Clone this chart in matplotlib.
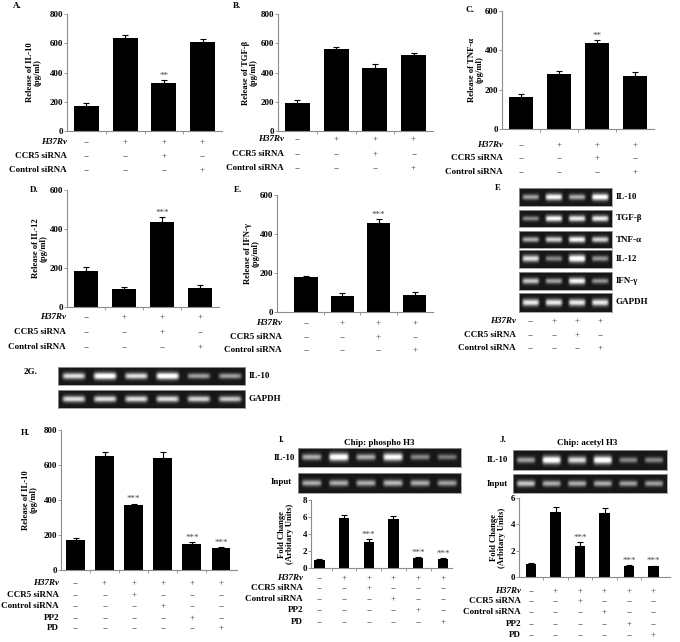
import numpy as np
import matplotlib
matplotlib.use("Agg")
import matplotlib.pyplot as plt
from matplotlib.transforms import blended_transform_factory

W, H = 680, 642

plt.rcParams["font.family"] = ["Liberation Serif", "DejaVu Serif"]
plt.rcParams["font.weight"] = "bold"

# ---------------------------------------------------------------------------
# Data
# ---------------------------------------------------------------------------
rows_4 = ["H37Rv", "CCR5 siRNA", "Control siRNA"]
signs_4 = [["−", "+", "+", "+"],
           ["−", "−", "+", "−"],
           ["−", "−", "−", "+"]]
rows_6 = ["H37Rv", "CCR5 siRNA", "Control siRNA", "PP2", "PD"]
signs_6 = [["−", "+", "+", "+", "+", "+"],
           ["−", "−", "+", "−", "−", "−"],
           ["−", "−", "−", "+", "−", "−"],
           ["−", "−", "−", "−", "+", "−"],
           ["−", "−", "−", "−", "−", "+"]]

il10_a = [171, 634, 326, 610]
il10_a_err = [18, 22, 22, 17]
stars_a = ["", "", "**", ""]

tgfb_b = [192, 558, 432, 517]
tgfb_b_err = [18, 18, 26, 18]
stars_b = ["", "", "", ""]

tnfa_c = [164, 278, 435, 268]
tnfa_c_err = [12, 16, 17, 21]
stars_c = ["", "", "**", ""]

il12_d = [184, 91, 436, 95]
il12_d_err = [19, 10, 23, 16]
stars_d = ["", "", "***", ""]

ifng_e = [178, 82, 458, 86]
ifng_e_err = [8, 14, 17, 15]
stars_e = ["", "", "***", ""]

il10_h = [171, 651, 370, 638, 149, 124]
il10_h_err = [10, 21, 9, 35, 9, 7]
stars_h = ["", "", "***", "", "***", "***"]

fold_i = [1.0, 5.85, 3.1, 5.8, 1.15, 1.1]
fold_i_err = [0.1, 0.35, 0.35, 0.35, 0.15, 0.1]
stars_i = ["", "", "***", "", "***", "***"]

fold_j = [1.0, 4.97, 2.35, 4.86, 0.84, 0.82]
fold_j_err = [0.08, 0.35, 0.3, 0.35, 0.05, 0.05]
stars_j = ["", "", "***", "", "***", "***"]

# gel band brightness per lane
gel_f_names = ["IL-10", "TGF-β", "TNF-α", "IL-12", "IFN-γ", "GAPDH"]
gel_f = [[0.55, 0.9, 0.6, 0.95],
         [0.45, 0.9, 0.85, 0.85],
         [0.6, 0.75, 0.9, 0.75],
         [0.8, 0.45, 1.0, 0.5],
         [0.7, 0.55, 0.9, 0.5],
         [0.85, 0.85, 0.85, 0.85]]
gel_g_names = ["IL-10", "GAPDH"]
gel_g = [[0.8, 1.0, 0.8, 1.0, 0.55, 0.55],
         [0.8, 0.8, 0.8, 0.8, 0.75, 0.7]]
gel_i = [[0.6, 1.0, 0.6, 0.95, 0.45, 0.4],
         [0.6, 0.6, 0.6, 0.65, 0.6, 0.55]]
gel_j = [[0.55, 1.0, 0.8, 1.0, 0.45, 0.45],
         [0.7, 0.6, 0.6, 0.6, 0.55, 0.55]]

FS = 6.5
YL_FS = 6.2
AXIS_GREY = "#8c8c8c"

fig = plt.figure(figsize=(W / 100, H / 100), dpi=100)


def fy(y):
    return 1 - y / H


def add_ax(x0, y0, x1, y1):
    return fig.add_axes([x0 / W, fy(y1), (x1 - x0) / W, (y1 - y0) / H])


def ftext(x, y, s, **kw):
    kw.setdefault("fontsize", FS)
    kw.setdefault("fontweight", "bold")
    fig.text(x / W, fy(y), s, **kw)


def row_block(ax, names, signs, ys, label_right):
    tr = blended_transform_factory(ax.transData, fig.transFigure)
    for name, row, y in zip(names, signs, ys):
        style = "italic" if name == "H37Rv" else "normal"
        ftext(label_right, y, name, ha="right", va="center", fontstyle=style)
        for i, s in enumerate(row):
            ax.text(i, fy(y), s, transform=tr, ha="center", va="center",
                    fontsize=FS, fontweight="normal", color="#444444")


def bar_panel(box, vals, errs, stars, ymax, ystep, xlim, width, ylabel,
              ylab_x, row_names, signs, row_ys, label_right):
    ax = add_ax(*box)
    x = np.arange(len(vals))
    ax.bar(x, vals, width, color="black", zorder=2)
    ax.errorbar(x, vals, yerr=[np.zeros(len(vals)), errs], fmt="none",
                ecolor="black", elinewidth=0.8, capsize=2, capthick=0.8, zorder=3)
    for i, s in enumerate(stars):
        if s:
            ax.text(i, vals[i] + errs[i] + ymax * 0.004, s, ha="center",
                    va="bottom", fontsize=FS, fontweight="normal", color="#444444")
    ax.set_xlim(*xlim)
    ax.set_ylim(0, ymax)
    ticks = np.arange(0, ymax + ystep / 2, ystep)
    ax.set_yticks(ticks)
    ax.set_yticklabels([f"{v:g}" for v in ticks], fontsize=FS, fontweight="bold")
    ax.set_xticks(np.arange(len(vals) - 1) + 0.5)
    ax.set_xticklabels([])
    ax.tick_params(length=2, width=0.6, color=AXIS_GREY, pad=1)
    for side in ("top", "right"):
        ax.spines[side].set_visible(False)
    for side in ("left", "bottom"):
        ax.spines[side].set_color(AXIS_GREY)
        ax.spines[side].set_linewidth(0.8)
    ax.patch.set_alpha(0)
    ymid = (box[1] + box[3]) / 2
    ftext(ylab_x, ymid, ylabel, rotation=90, ha="center", va="center",
          linespacing=1.0, fontsize=YL_FS)
    row_block(ax, row_names, signs, row_ys, label_right)
    return ax


def gel_image(levels):
    n = len(levels)
    xs = np.linspace(-0.5, n - 0.5, 60 * n)
    ys = np.linspace(0, 1, 40)
    X, Y = np.meshgrid(xs, ys)
    img = np.full(X.shape, 0.09)
    for i, lv in enumerate(levels):
        t = 0.1 + 0.1 * lv
        img += lv * np.exp(-((X - i) / 0.36) ** 8) * np.exp(-((Y - 0.5) / t) ** 2)
    return np.clip(img, 0, 1)


def gel_strip(box, levels):
    ax = add_ax(*box)
    n = len(levels)
    ax.imshow(gel_image(levels), cmap="gray", vmin=0, vmax=1, aspect="auto",
              extent=(-0.5, n - 0.5, 0, 1), interpolation="bilinear")
    ax.set_xlim(-0.5, n - 0.5)
    ax.set_xticks([])
    ax.set_yticks([])
    for sp in ax.spines.values():
        sp.set_color("#9a9a9a")
        sp.set_linewidth(0.6)
    return ax


# ---------------------------------------------------------------------------
# Top row: A, B, C
# ---------------------------------------------------------------------------
ftext(17, 6, "A.", ha="center", va="center")
bar_panel((67, 14, 222, 131), il10_a, il10_a_err, stars_a, 800, 200,
          (-0.5, 3.5), 0.64, "Release of IL-10\n(pg/ml)", 34,
          rows_4, signs_4, [142, 156, 170], 67)

ftext(237, 6, "B.", ha="center", va="center")
bar_panel((278, 14, 433, 131), tgfb_b, tgfb_b_err, stars_b, 800, 200,
          (-0.5, 3.5), 0.64, "Release of TGF-β\n(pg/ml)", 250,
          rows_4, signs_4, [139, 154, 168], 284)

ftext(470, 10, "C.", ha="center", va="center")
bar_panel((502, 11, 654, 129), tnfa_c, tnfa_c_err, stars_c, 600, 200,
          (-0.5, 3.5), 0.64, "Release of TNF-α\n(pg/ml)", 476,
          rows_4, signs_4, [145, 158, 172], 503)

# ---------------------------------------------------------------------------
# Middle row: D, E, F
# ---------------------------------------------------------------------------
ftext(34, 190, "D.", ha="center", va="center")
bar_panel((67, 190, 219, 307), il12_d, il12_d_err, stars_d, 600, 200,
          (-0.5, 3.5), 0.64, "Release of IL-12\n(pg/ml)", 40,
          rows_4, signs_4, [317, 332, 347], 66)

ftext(238, 190, "E.", ha="center", va="center")
bar_panel((277, 195, 433, 312), ifng_e, ifng_e_err, stars_e, 600, 200,
          (-0.8, 3.5), 0.64, "Release of IFN-γ\n(pg/ml)", 252,
          rows_4, signs_4, [323, 337, 350], 282)

ftext(498, 188, "F.", ha="center", va="center")
f_rows = [(188, 206), (210, 227), (231, 248), (250, 268), (272, 290), (293, 312)]
for name, lv, (y0, y1) in zip(gel_f_names, gel_f, f_rows):
    gax = gel_strip((519, y0, 612, y1), lv)
    ftext(616, (y0 + y1) / 2, name, ha="left", va="center")
row_block(gax, rows_4, signs_4, [321, 335, 348], 516)

# ---------------------------------------------------------------------------
# 2G gel
# ---------------------------------------------------------------------------
ftext(31, 372, "2G.", ha="center", va="center")
for name, lv, (y0, y1) in zip(gel_g_names, gel_g, [(367, 385), (390, 408)]):
    gel_strip((58, y0, 245, y1), lv)
    ftext(249, (y0 + y1) / 2, name, ha="left", va="center")

# ---------------------------------------------------------------------------
# Bottom row: H, I, J
# ---------------------------------------------------------------------------
ftext(25, 433, "H.", ha="center", va="center")
bar_panel((61, 430, 237, 570), il10_h, il10_h_err, stars_h, 800, 200,
          (-0.5, 5.55), 0.65, "Release of IL-10\n(pg/ml)", 30,
          rows_6, signs_6, [583, 595, 606, 618, 628], 59)

ftext(282, 440, "I.", ha="center", va="center")
ftext(379, 443, "Chip: phospho H3", ha="center", va="center")
gel_strip((298, 448, 461, 467), gel_i[0])
gel_strip((298, 473, 461, 493), gel_i[1])
ftext(295, 458, "IL-10", ha="right", va="center")
ftext(292, 482, "Input", ha="right", va="center")
bar_panel((311, 500, 452, 568), fold_i, fold_i_err, stars_i, 8, 2,
          (-0.34, 5.37), 0.42, "Fold Change\n(Arbitary Units)", 286,
          rows_6, signs_6, [578, 588, 599, 610, 622], 303)

ftext(503, 440, "J.", ha="center", va="center")
ftext(587, 443, "Chip: acetyl H3", ha="center", va="center")
gel_strip((513, 450, 667, 470), gel_j[0])
gel_strip((513, 474, 667, 493), gel_j[1])
ftext(508, 460, "IL-10", ha="right", va="center")
ftext(508, 484, "Input", ha="right", va="center")
bar_panel((519, 498, 670, 577), fold_j, fold_j_err, stars_j, 6, 2,
          (-0.49, 5.67), 0.42, "Fold Change\n(Arbitary Units)", 498,
          rows_6, signs_6, [591, 601, 612, 624, 635], 521)

fig.savefig("out.png", dpi=100)
